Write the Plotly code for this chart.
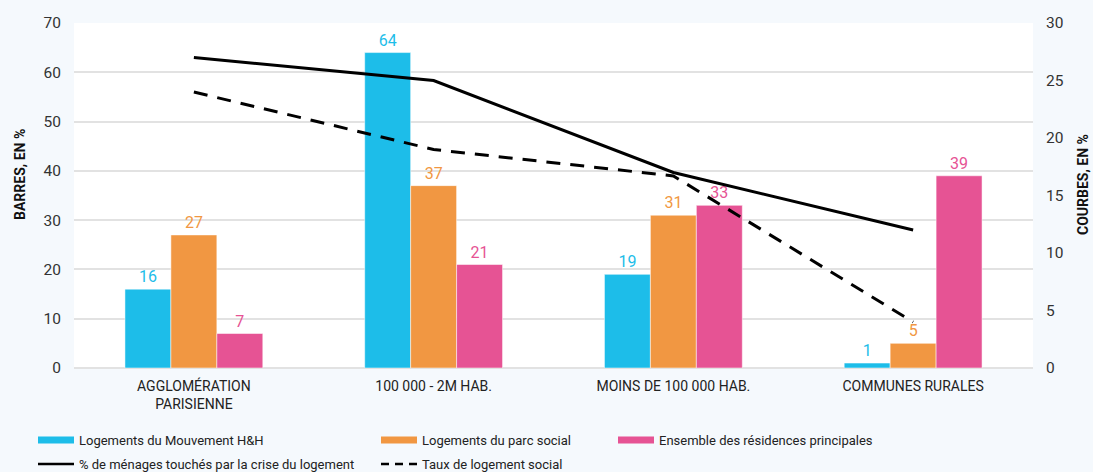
import plotly.graph_objects as go

categories = ["AGGLOMÉRATION<br>PARISIENNE", "100 000 - 2M HAB.", "MOINS DE 100 000 HAB.", "COMMUNES RURALES"]
hh_values = [16, 64, 19, 1]
parc_social_values = [27, 37, 31, 5]
residences_values = [7, 21, 33, 39]
crise_values = [27, 25, 17, 12]
taux_social_values = [24, 19, 16.7, 4]

bar_names = ["Logements du Mouvement H&H", "Logements du parc social", "Ensemble des résidences principales"]
line_names = ["% de ménages touchés par la crise du logement", "Taux de logement social"]
colors = ["#1dbde9", "#f19742", "#e65394"]
FONT = "Roboto, Liberation Sans, sans-serif"

W, H = 1093, 472
L, R, T, B = 74, 60, 23, 104

fig = go.Figure()
for name, vals, col in zip(bar_names, [hh_values, parc_social_values, residences_values], colors):
    fig.add_trace(go.Bar(
        x=categories, y=vals, name=name, marker=dict(color=col, line=dict(color="rgba(255,255,255,0.5)", width=1)),
        text=vals, textposition="outside", textfont=dict(color=col, size=16, family=FONT),
        cliponaxis=False, showlegend=False, yaxis="y"))

fig.add_trace(go.Scatter(x=categories, y=crise_values, mode="lines", line=dict(color="black", width=3),
                         yaxis="y2", showlegend=False))
fig.add_trace(go.Scatter(x=categories, y=taux_social_values, mode="lines",
                         line=dict(color="black", width=3, dash="14px,10px"), yaxis="y2", showlegend=False))

# legend entries
legend_ids = ["legend", "legend2", "legend3", "legend4", "legend5"]
for i, (name, col) in enumerate(zip(bar_names, colors)):
    fig.add_trace(go.Scatter(x=[categories[0]], y=[None], mode="lines", name=name,
                             line=dict(color=col, width=7), legend=legend_ids[i], showlegend=True))
fig.add_trace(go.Scatter(x=[categories[0]], y=[None], mode="lines", name=line_names[0],
                         line=dict(color="black", width=2.5), legend="legend4", showlegend=True))
fig.add_trace(go.Scatter(x=[categories[0]], y=[None], mode="lines", name=line_names[1],
                         line=dict(color="black", width=2.5, dash="8px,6px"), legend="legend5", showlegend=True))

def leg(x, y):
    return dict(x=x, y=y, xref="container", yref="container", xanchor="left", yanchor="middle",
                bgcolor="rgba(0,0,0,0)", font=dict(size=13, family=FONT, color="#222"),
                itemwidth=36, tracegroupgap=0)

pw = W - L - R
ph = H - T - B
def px_x(x):
    return (x - L) / pw
def px_y(y):
    return (H - B - y) / ph

fig.update_layout(
    width=W, height=H,
    paper_bgcolor="#f5f9fd", plot_bgcolor="white",
    margin=dict(l=L, r=R, t=T, b=B, autoexpand=False),
    barmode="group", bargap=0.425, bargroupgap=0,
    font=dict(family=FONT, color="#333"),
    xaxis=dict(tickfont=dict(size=14, color="#222"), showgrid=False, showline=False, ticks="", tickangle=0,
               ticklabelstandoff=8),
    yaxis=dict(range=[0, 70], dtick=10, gridcolor="#e2e2e2", gridwidth=1.5, zeroline=True,
               zerolinecolor="#e2e2e2", zerolinewidth=1.5, tickfont=dict(size=15.5, color="#333"),
               ticklabelstandoff=12),
    yaxis2=dict(range=[0, 30], dtick=5, overlaying="y", side="right", showgrid=False, zeroline=False,
                tickfont=dict(size=15.5, color="#333"), ticklabelstandoff=12),
    legend=leg(33 / W, 1 - 440 / H),
    legend2=leg(376 / W, 1 - 440 / H),
    legend3=leg(613 / W, 1 - 440 / H),
    legend4=leg(33 / W, 1 - 464 / H),
    legend5=leg(376 / W, 1 - 464 / H),
    annotations=[
        dict(text="<b>BARRES, EN %</b>", textangle=-90, xref="paper", yref="paper",
             x=px_x(20), y=px_y(175), xanchor="center", yanchor="middle", showarrow=False,
             font=dict(size=14, color="#111", family=FONT)),
        dict(text="<b>COURBES, EN %</b>", textangle=-90, xref="paper", yref="paper",
             x=px_x(1083), y=px_y(185), xanchor="center", yanchor="middle", showarrow=False,
             font=dict(size=14, color="#111", family=FONT)),
    ],
)

fig.write_html("out.html", config={"displayModeBar": False},
               post_script="document.body.style.margin='0';")
